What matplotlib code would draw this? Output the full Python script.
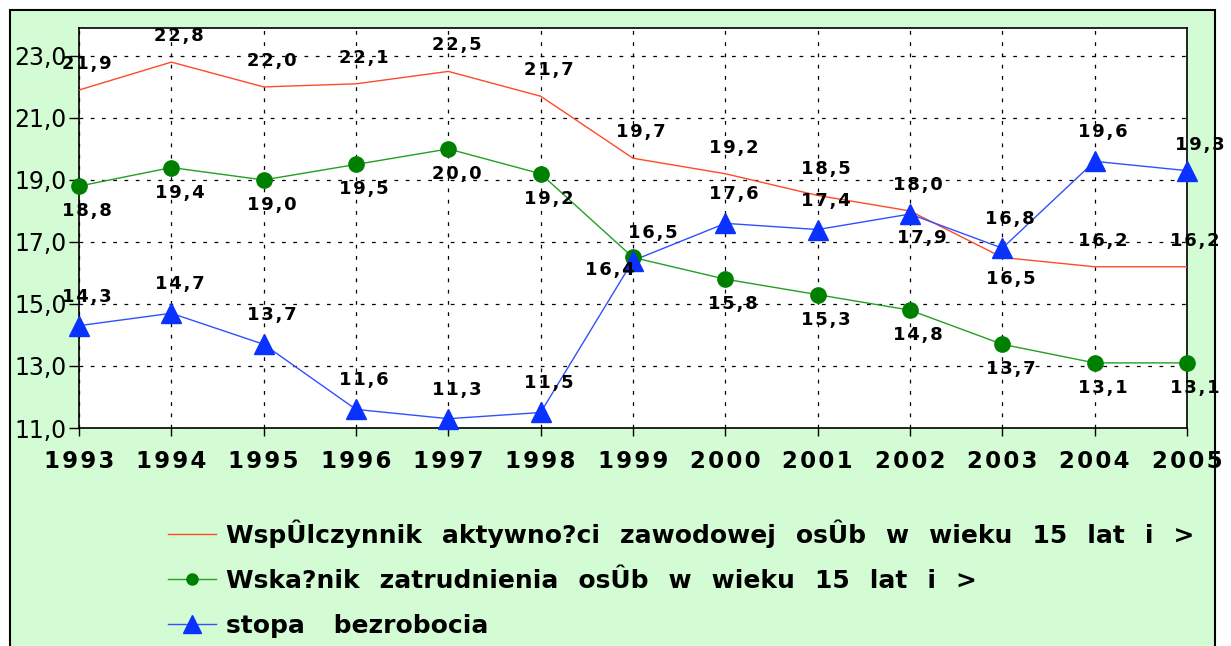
import matplotlib.pyplot as plt
from matplotlib.patches import Rectangle
from matplotlib.lines import Line2D

years = [1993, 1994, 1995, 1996, 1997, 1998, 1999, 2000, 2001, 2002, 2003, 2004, 2005]
aktywnosc = [21.9, 22.8, 22.0, 22.1, 22.5, 21.7, 19.7, 19.2, 18.5, 18.0, 16.5, 16.2, 16.2]
zatrudnienie = [18.8, 19.4, 19.0, 19.5, 20.0, 19.2, 16.5, 15.8, 15.3, 14.8, 13.7, 13.1, 13.1]
bezrobocie = [14.3, 14.7, 13.7, 11.6, 11.3, 11.5, 16.4, 17.6, 17.4, 17.9, 16.8, 19.6, 19.3]
yticks = [11, 13, 15, 17, 19, 21, 23]

GAP = '  \u200a'
labels = [GAP.join("WspÛlczynnik aktywno?ci zawodowej osÛb w wieku 15 lat i >".split()),
          GAP.join("Wska?nik zatrudnienia osÛb w wieku 15 lat i >".split()),
          "stopa   \u200abezrobocia"]

HS = '\u200a'


def spaced(s):
    return HS.join(s)


def fmt(v):
    return spaced(f"{v:.1f}".replace('.', ','))


fig = plt.figure(figsize=(12.31, 6.46), dpi=100)
fig.patch.set_facecolor('white')
fig.patches.append(Rectangle((10 / 1231, -0.01), 1205 / 1231, 1 - 10 / 646 + 0.01,
                             transform=fig.transFigure, facecolor='#d4fcd4',
                             edgecolor='black', linewidth=1.5, zorder=-1))

ax = fig.add_axes([79 / 1231, 1 - 428 / 646, 1108 / 1231, 400 / 646])
ax.set_zorder(1)
ax.set_facecolor('white')

red, green, blue = '#ff4a2a', '#008000', '#0a32ff'
ax.plot(years, aktywnosc, color=red, lw=1, zorder=3)
ax.plot(years, zatrudnienie, color='#22a022', lw=1, zorder=3)
ax.plot(years, zatrudnienie, ls='none', marker='o', ms=11, color=green, zorder=4, clip_on=False)
ax.plot(years, bezrobocie, color='#3050ff', lw=1, zorder=3)
ax.plot(years, bezrobocie, ls='none', marker='^', ms=15, color=blue, zorder=5, clip_on=False)

ax.set_xlim(1993, 2005)
ax.set_ylim(11, 23.9)
ax.set_yticks(yticks)
ax.set_yticklabels([f"{t:.1f}".replace('.', ',') for t in yticks], fontsize=17)
ax.set_xticks(years)
ax.set_xticklabels([spaced(str(y)) for y in years], fontsize=16.5, fontweight='bold')
for t in ax.get_xticklabels():
    t.set_clip_on(False)
ax.tick_params(axis='y', length=7, width=1, pad=2)
ax.tick_params(axis='x', length=6, width=1, pad=10)
ax.grid(True, color='black', ls=(0, (3, 6)), lw=0.9)
for s in ax.spines.values():
    s.set_linewidth(1.2)

# label offsets in pixels (dx, dy), dy up
def offsets(default, overrides):
    return [overrides.get(i, default) for i in range(len(years))]

off_red = offsets((8, 26), {10: (8, -22)})
off_green = offsets((8, -25), {6: (20, 24)})
off_blue = offsets((8, 29), {6: (-23, -9), 9: (12, -24), 12: (13, 26)})

for series, offs in [(aktywnosc, off_red), (zatrudnienie, off_green), (bezrobocie, off_blue)]:
    for x, v, (dx, dy) in zip(years, series, offs):
        ax.annotate(fmt(v), (x, v), xytext=(dx, dy), textcoords='offset pixels',
                    ha='center', va='center', fontsize=13, fontweight='bold',
                    annotation_clip=False, clip_on=False, zorder=6)

handles = [Line2D([], [], color=red, lw=1),
           Line2D([], [], color='#22a022', lw=1, marker='o', ms=8, mfc=green, mec=green),
           Line2D([], [], color='#3050ff', lw=1, marker='^', ms=13, mfc=blue, mec=blue)]
fig.legend(handles, labels, loc='upper left', bbox_to_anchor=(168 / 1231, 1 - 519 / 646),
           frameon=False, prop={'size': 18, 'weight': 'bold'}, handlelength=1.9,
           handletextpad=0.4, labelspacing=0.85, borderpad=0, borderaxespad=0)

fig.savefig('out.png', dpi=100)
